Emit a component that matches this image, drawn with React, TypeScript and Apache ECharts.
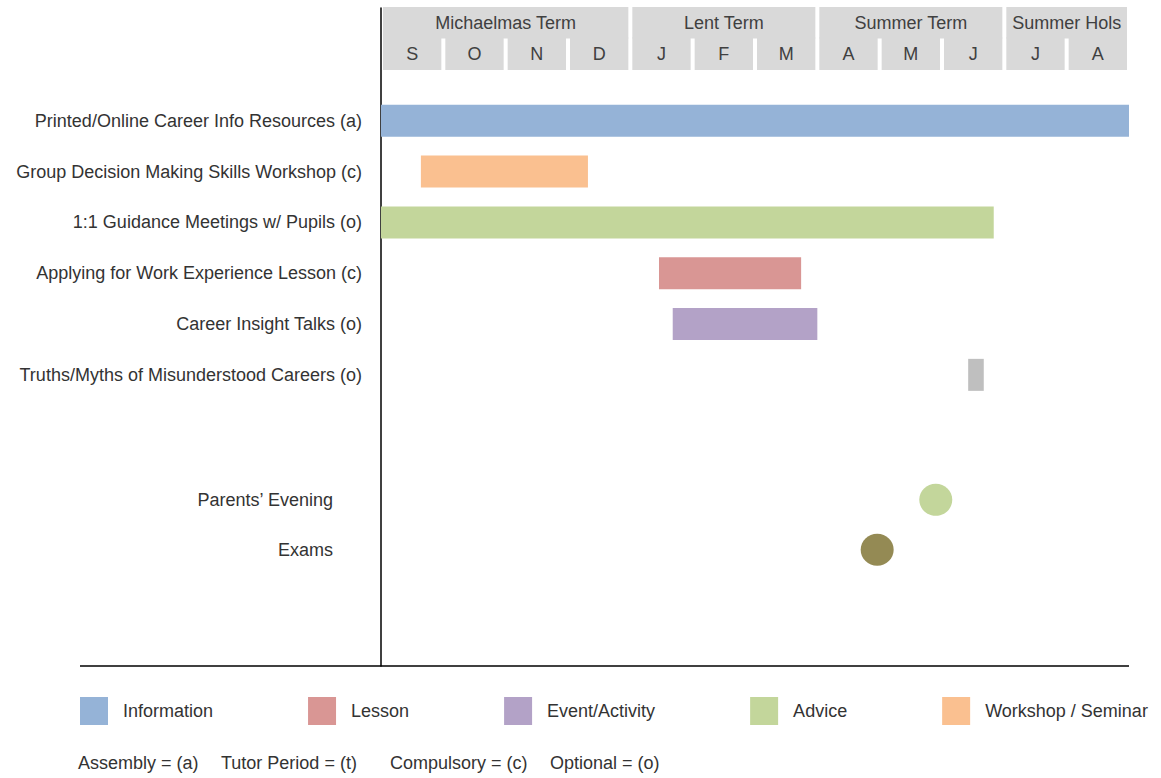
import React, { useEffect, useRef } from "react";
import * as echarts from "echarts";

// ---------- data ----------
const MONTHS = ["S", "O", "N", "D", "J", "F", "M", "A", "M", "J", "J", "A"];
const TERMS = ["Michaelmas Term", "Lent Term", "Summer Term", "Summer Hols"];
const TERM_START = [0, 4, 7, 10];
const TERM_END = [4, 7, 10, 12];

const TASK_NAMES = [
  "Printed/Online Career Info Resources (a)",
  "Group Decision Making Skills Workshop (c)",
  "1:1 Guidance Meetings w/ Pupils (o)",
  "Applying for Work Experience Lesson (c)",
  "Career Insight Talks (o)",
  "Truths/Myths of Misunderstood Careers (o)",
];
const TASK_ROW = [0, 1, 2, 3, 4, 5];
const TASK_START = [0, 0.64, 0, 4.46, 4.68, 9.42];
const TASK_END = [12, 3.32, 9.83, 6.74, 7.0, 9.67];
const TASK_TYPE = ["Information", "Workshop / Seminar", "Advice", "Lesson", "Event/Activity", "Other"];

const EVENT_NAMES = ["Parents\u2019 Evening", "Exams"];
const EVENT_ROW = [7.46, 8.44];
const EVENT_MONTH = [8.9, 7.96];

const CATEGORIES = ["Information", "Lesson", "Event/Activity", "Advice", "Workshop / Seminar"];
const NOTES = ["Assembly = (a)", "Tutor Period = (t)", "Compulsory = (c)", "Optional = (o)"];

// ---------- styles ----------
const FONT = "Liberation Sans, Arial, sans-serif";
const TEXT = "#333333";
const HEADER_TEXT = "#404040";
const HEADER_FILL = "#d9d9d9";
const TYPE_COLOR: Record<string, string> = {
  Information: "#95b3d7",
  Lesson: "#d99694",
  "Event/Activity": "#b3a2c7",
  Advice: "#c3d69b",
  "Workshop / Seminar": "#fac090",
  Other: "#bfbfbf",
};
const EVENT_COLOR = ["#c3d69b", "#948a54"];
const NOTE_X = [78, 221, 390, 550];
const BAR_H = 0.63;

function buildOption() {
  const taskSeries = [...CATEGORIES, "Other"].map((cat) => ({
    type: "custom",
    name: cat,
    xAxisIndex: 1,
    yAxisIndex: 1,
    itemStyle: { color: TYPE_COLOR[cat] },
    encode: { x: [0, 1], y: 2 },
    data: TASK_NAMES.map((_, i) => i)
      .filter((i) => TASK_TYPE[i] === cat)
      .map((i) => [TASK_START[i], TASK_END[i], TASK_ROW[i], i]),
    renderItem: (params: any, api: any) => {
      const s = api.value(0);
      const e = api.value(1);
      const r = api.value(2);
      const i = api.value(3);
      const a = api.coord([s, r]);
      const b = api.coord([e, r]);
      const h = api.size([0, BAR_H])[1];
      const axisX = api.coord([0, r])[0];
      return {
        type: "group",
        children: [
          {
            type: "rect",
            shape: { x: a[0], y: a[1] - h / 2, width: b[0] - a[0], height: h },
            style: { fill: TYPE_COLOR[cat] },
          },
          {
            type: "text",
            x: axisX - 19,
            y: a[1],
            style: {
              text: TASK_NAMES[i],
              align: "right",
              verticalAlign: "middle",
              fontSize: 18,
              fontFamily: FONT,
              fill: TEXT,
            },
          },
        ],
      };
    },
  }));

  const eventSeries = {
    type: "custom",
    name: "Events",
    xAxisIndex: 1,
    yAxisIndex: 1,
    encode: { x: 0, y: 1 },
    data: EVENT_NAMES.map((_, i) => [EVENT_MONTH[i], EVENT_ROW[i], i]),
    renderItem: (params: any, api: any) => {
      const m = api.value(0);
      const r = api.value(1);
      const i = api.value(2);
      const c = api.coord([m, r]);
      const axisX = api.coord([0, r])[0];
      return {
        type: "group",
        children: [
          {
            type: "ellipse",
            shape: { cx: c[0], cy: c[1], rx: 16.5, ry: 16 },
            style: { fill: EVENT_COLOR[i] },
          },
          {
            type: "text",
            x: axisX - 48,
            y: c[1],
            style: {
              text: EVENT_NAMES[i],
              align: "right",
              verticalAlign: "middle",
              fontSize: 18,
              fontFamily: FONT,
              fill: TEXT,
            },
          },
        ],
      };
    },
  };

  const termSeries = {
    type: "custom",
    name: "Terms",
    xAxisIndex: 0,
    yAxisIndex: 0,
    encode: { x: [0, 1] },
    data: TERMS.map((_, i) => [TERM_START[i], TERM_END[i], i]),
    renderItem: (params: any, api: any) => {
      const a = api.coord([api.value(0), 0]);
      const b = api.coord([api.value(1), 1]);
      const i = api.value(2);
      return {
        type: "group",
        children: [
          {
            type: "rect",
            shape: { x: a[0] + 2, y: a[1], width: b[0] - a[0] - 4, height: b[1] - a[1] },
            style: { fill: HEADER_FILL },
          },
          {
            type: "text",
            x: (a[0] + b[0]) / 2,
            y: (a[1] + b[1]) / 2,
            style: {
              text: TERMS[i],
              align: "center",
              verticalAlign: "middle",
              fontSize: 18,
              fontFamily: FONT,
              fill: HEADER_TEXT,
            },
          },
        ],
      };
    },
  };

  const monthSeries = {
    type: "custom",
    name: "Months",
    xAxisIndex: 0,
    yAxisIndex: 0,
    encode: { x: 0 },
    data: MONTHS.map((_, i) => [i, i]),
    renderItem: (params: any, api: any) => {
      const idx = api.value(1);
      const a = api.coord([api.value(0), 1]);
      const b = api.coord([api.value(0) + 1, 2]);
      return {
        type: "group",
        children: [
          {
            type: "rect",
            shape: { x: a[0] + 2, y: a[1] - 1, width: b[0] - a[0] - 4, height: b[1] - a[1] + 1 },
            style: { fill: HEADER_FILL },
          },
          {
            type: "text",
            x: (a[0] + b[0]) / 2,
            y: (a[1] + b[1]) / 2,
            style: {
              text: MONTHS[idx],
              align: "center",
              verticalAlign: "middle",
              fontSize: 18,
              fontFamily: FONT,
              fill: HEADER_TEXT,
            },
          },
        ],
      };
    },
  };

  const hiddenAxis = {
    axisLine: { show: false },
    axisTick: { show: false },
    axisLabel: { show: false },
    splitLine: { show: false },
  };

  return {
    animation: false,
    backgroundColor: "#ffffff",
    textStyle: { fontFamily: FONT },
    grid: [
      { left: 381, right: 32, top: 7, height: 63 },
      { left: 381, right: 32, top: 8, bottom: 112 },
    ],
    xAxis: [
      { type: "value", gridIndex: 0, min: 0, max: 12, ...hiddenAxis },
      { type: "value", gridIndex: 1, min: 0, max: 12, ...hiddenAxis },
    ],
    yAxis: [
      { type: "value", gridIndex: 0, min: 0, max: 2, inverse: true, ...hiddenAxis },
      {
        type: "value",
        gridIndex: 1,
        min: -2.22,
        max: 10.73,
        inverse: true,
        ...hiddenAxis,
        axisLine: { show: true, onZero: false, lineStyle: { color: "#000", width: 1.5 } },
      },
    ],
    legend: {
      data: CATEGORIES,
      left: 80,
      top: 697,
      padding: 0,
      itemWidth: 28,
      itemHeight: 28,
      itemGap: 95,
      icon: "rect",
      selectedMode: false,
      textStyle: { fontSize: 18, color: TEXT, fontFamily: FONT, padding: [0, 0, 0, 10] },
    },
    graphic: [
      {
        type: "line",
        shape: { x1: 80, y1: 666, x2: 1129, y2: 666 },
        style: { stroke: "#000", lineWidth: 1.5 },
        z: 10,
      },
      ...NOTES.map((t, i) => ({
        type: "text",
        x: NOTE_X[i],
        y: 763,
        style: {
          text: t,
          fontSize: 18,
          fontFamily: FONT,
          fill: TEXT,
          verticalAlign: "middle",
        },
      })),
    ],
    series: [termSeries, monthSeries, ...taskSeries, eventSeries],
  };
}

export default function App() {
  const ref = useRef<HTMLDivElement>(null);
  useEffect(() => {
    if (!ref.current) return;
    const chart = echarts.init(ref.current, null, { renderer: "svg" });
    chart.setOption(buildOption() as any);
    return () => chart.dispose();
  }, []);
  return (
    <div
      ref={ref}
      style={{ position: "fixed", left: 0, top: 0, width: 1161, height: 778, background: "#fff" }}
    />
  );
}
